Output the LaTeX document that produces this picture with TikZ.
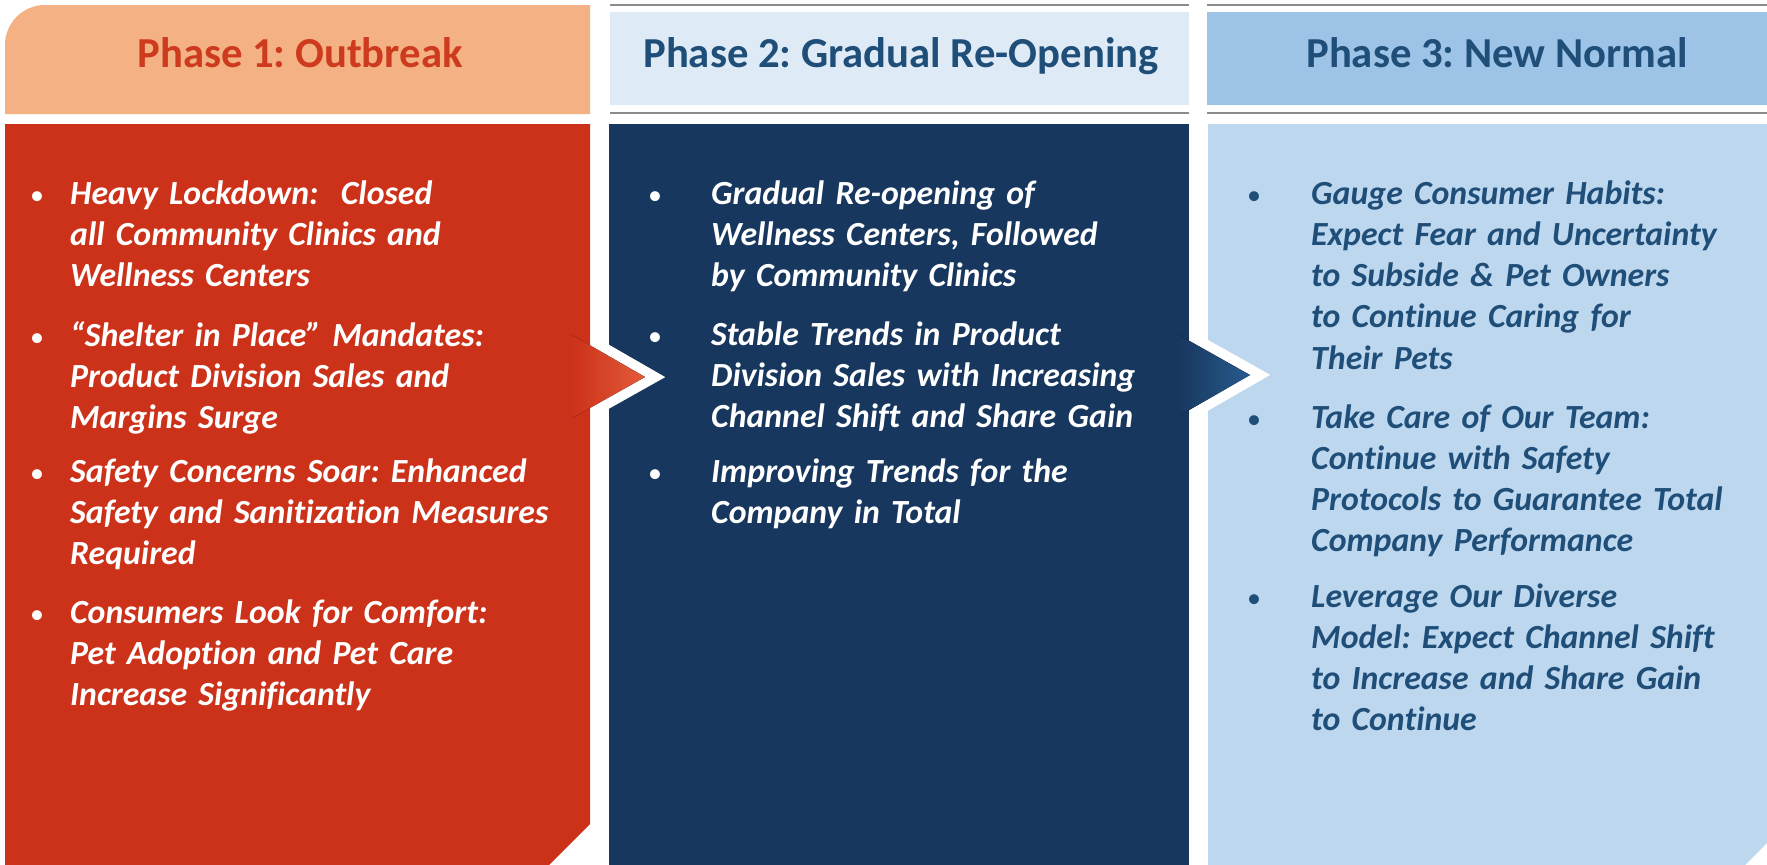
\documentclass[tikz,border=0pt]{standalone}
\usepackage{fontspec}
\setmainfont{Carlito}[Ligatures=NoCommon]
\definecolor{peach}{HTML}{F4B183}
\definecolor{brick}{HTML}{CC3219}
\definecolor{brickhi}{HTML}{E35B3A}
\definecolor{headred}{HTML}{CD3A1E}
\definecolor{paleblue}{HTML}{DEEBF7}
\definecolor{navy}{HTML}{17375E}
\definecolor{navyhi}{HTML}{285A8E}
\definecolor{skyblue}{HTML}{9DC3E6}
\definecolor{iceblue}{HTML}{BDD7EE}
\definecolor{inkblue}{HTML}{1F4E79}
\definecolor{rulegray}{HTML}{8C8C8C}
\frenchspacing
\begin{document}
\begin{tikzpicture}[x=1bp,y=-1bp,
  headtxt/.style={anchor=base,inner sep=0pt,font=\fontsize{42.7bp}{50bp}\selectfont\bfseries},
  itemtxt/.style={anchor=north west,inner sep=0pt,text width=560bp,align=left,
    font=\fontsize{33.8bp}{41.2bp}\selectfont\bfseries\itshape},
  bul/.style={anchor=base,inner sep=0pt,font=\fontsize{28bp}{28bp}\selectfont},
  hrule/.style={draw=rulegray,line width=1.6bp},
  rim/.style={draw=white,line width=20bp,line join=miter,miter limit=10}]
\useasboundingbox (0,0) rectangle (1767,865);

% ---------- headers ----------
\fill[peach] (5,114) -- (5,45) arc[start angle=180,end angle=270,radius=40] -- (590,5) -- (590,114) -- cycle;
\fill[paleblue] (610,12) rectangle (1189,105);
\draw[hrule] (610,5) -- (1189,5) (610,113) -- (1189,113);
\fill[skyblue] (1207,12) rectangle (1767,105);
\draw[hrule] (1207,5) -- (1767,5) (1207,113) -- (1767,113);

\node[headtxt,text=headred] (h1) at (300,67) {Phase 1: Outbreak};
\node[headtxt,text=inkblue] (h2) at (901,67) {Phase 2: Gradual Re-Opening};
\node[headtxt,text=inkblue] (h3) at (1497,67) {Phase 3: New Normal};

% ---------- panels ----------
\fill[brick] (5,124) -- (590,124) -- (590,824) -- (549,865) -- (5,865) -- cycle;
\fill[navy] (609,124) rectangle (1189,865);
\fill[iceblue] (1208,124) -- (1767,124) -- (1767,843) -- (1745,865) -- (1208,865) -- cycle;

% ---------- chevrons ----------
\begin{scope}
  \clip (591,300) rectangle (720,460);
  \draw[rim] (572,335) -- (645,377) -- (572,418);
\end{scope}
\fill[left color=brick,right color=brickhi] (572,335) -- (645,377) -- (572,418) -- cycle;

\begin{scope}
  \clip (1190,300) rectangle (1320,460);
  \draw[rim] (1177,334) -- (1250,375) -- (1177,417);
\end{scope}
\fill[left color=navy,right color=navyhi] (1177,334) -- (1250,375) -- (1177,417) -- cycle;

% ---------- phase 1 ----------
\node[bul,text=white] (b11) at (37,204) {•};
\node[itemtxt,text=white] (t11) at (70,175.2) {\strut Heavy Lockdown:\ \ Closed\\all Community Clinics and\\Wellness Centers};
\node[bul,text=white] (b12) at (37,346) {•};
\node[itemtxt,text=white] (t12) at (70,317.2) {\strut “Shelter in Place” Mandates:\\Product Division Sales and\\Margins Surge};
\node[bul,text=white] (b13) at (37,482) {•};
\node[itemtxt,text=white] (t13) at (70,453.2) {\strut Safety Concerns Soar: Enhanced\\Safety and Sanitization Measures\\Required};
\node[bul,text=white] (b14) at (37,623) {•};
\node[itemtxt,text=white] (t14) at (70,594.2) {\strut Consumers Look for Comfort:\\Pet Adoption and Pet Care\\Increase Significantly};

% ---------- phase 2 ----------
\node[bul,text=white] (b21) at (655,204) {•};
\node[itemtxt,text=white] (t21) at (711,175.2) {\strut Gradual Re-opening of\\Wellness Centers, Followed\\by Community Clinics};
\node[bul,text=white] (b22) at (655,345) {•};
\node[itemtxt,text=white] (t22) at (711,316.2) {\strut Stable Trends in Product\\Division Sales with Increasing\\Channel Shift and Share Gain};
\node[bul,text=white] (b23) at (655,482) {•};
\node[itemtxt,text=white] (t23) at (711,453.2) {\strut Improving Trends for the\\Company in Total};

% ---------- phase 3 ----------
\node[bul,text=inkblue] (b31) at (1254,204) {•};
\node[itemtxt,text=inkblue] (t31) at (1311,175.2) {\strut Gauge Consumer Habits:\\Expect Fear and Uncertainty\\to Subside \& Pet Owners\\to Continue Caring for\\Their Pets};
\node[bul,text=inkblue] (b32) at (1254,428) {•};
\node[itemtxt,text=inkblue] (t32) at (1311,399.2) {\strut Take Care of Our Team:\\Continue with Safety\\Protocols to Guarantee Total\\Company Performance};
\node[bul,text=inkblue] (b33) at (1254,607) {•};
\node[itemtxt,text=inkblue] (t33) at (1311,578.2) {\strut Leverage Our Diverse\\Model: Expect Channel Shift\\to Increase and Share Gain\\to Continue};
\end{tikzpicture}
\end{document}
